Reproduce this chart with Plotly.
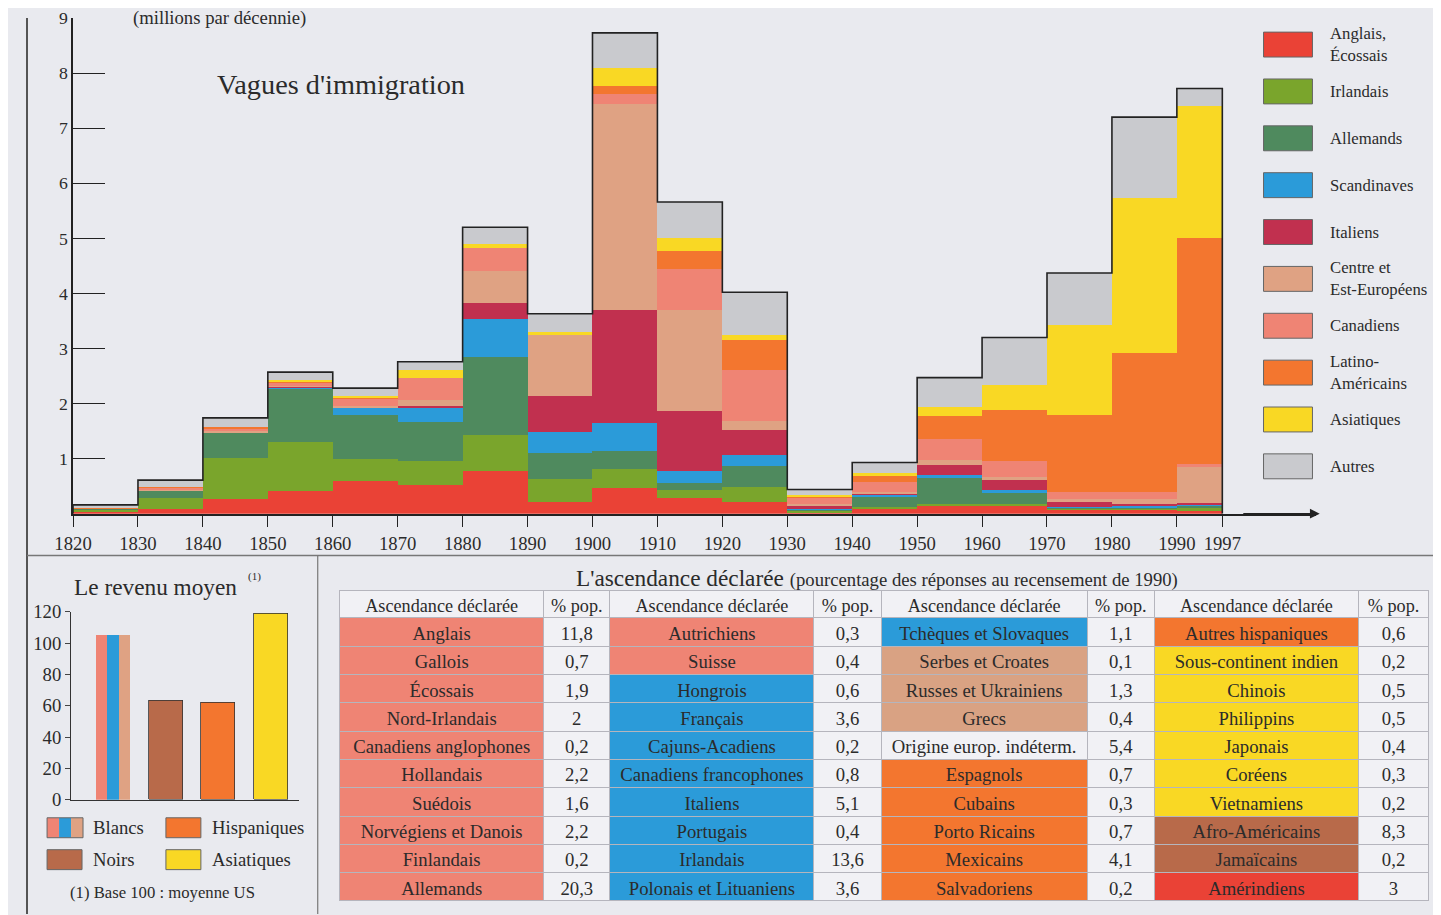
import plotly.graph_objects as go

# The snapshot maps page pixels to picture pixels as pic = S * page + O;
# positions below are given in picture pixels and converted back.
SX, OX, SY, OY = 0.988, 16.0, 0.98, 8.0
PAD = 8
W, H = 1434, 917
SERIF = "Liberation Serif, Times New Roman, serif"
BG = "#e9eaef"
INK = "#2b2b2b"

# --- Vagues d'immigration (millions par décennie) ---
decades = [1820, 1830, 1840, 1850, 1860, 1870, 1880, 1890, 1900, 1910,
           1920, 1930, 1940, 1950, 1960, 1970, 1980, 1990]
spans = [10] * 17 + [7]
year_ticks = [1820, 1830, 1840, 1850, 1860, 1870, 1880, 1890, 1900, 1910,
              1920, 1930, 1940, 1950, 1960, 1970, 1980, 1990, 1997]

anglais = [0.03, 0.09, 0.27, 0.41, 0.59, 0.53, 0.77, 0.22, 0.47, 0.28, 0.22, 0.02, 0.10, 0.14, 0.15, 0.07, 0.07, 0.05]
irlandais = [0.05, 0.20, 0.75, 0.90, 0.40, 0.42, 0.65, 0.41, 0.34, 0.15, 0.27, 0.02, 0.03, 0.04, 0.03, 0.02, 0.02, 0.07]
allemands = [0.01, 0.14, 0.45, 0.97, 0.80, 0.72, 1.43, 0.47, 0.32, 0.13, 0.37, 0.04, 0.18, 0.46, 0.19, 0.03, 0.03, 0.03]
scandinaves = [0.00, 0.00, 0.01, 0.02, 0.13, 0.24, 0.68, 0.39, 0.52, 0.21, 0.21, 0.01, 0.03, 0.07, 0.06, 0.01, 0.02, 0.02]
italiens = [0.00, 0.00, 0.00, 0.01, 0.01, 0.05, 0.30, 0.64, 2.04, 1.10, 0.45, 0.05, 0.03, 0.17, 0.19, 0.09, 0.03, 0.03]
centre_est = [0.00, 0.01, 0.02, 0.01, 0.02, 0.11, 0.57, 1.11, 3.75, 1.82, 0.17, 0.03, 0.02, 0.10, 0.04, 0.05, 0.10, 0.65]
canadiens = [0.01, 0.03, 0.05, 0.06, 0.14, 0.39, 0.42, 0.00, 0.18, 0.75, 0.92, 0.12, 0.18, 0.38, 0.29, 0.13, 0.13, 0.05]
latinos = [0.01, 0.01, 0.02, 0.01, 0.02, 0.00, 0.00, 0.00, 0.15, 0.33, 0.54, 0.03, 0.12, 0.42, 0.94, 1.39, 2.51, 4.11]
asiatiques = [0.00, 0.00, 0.00, 0.04, 0.03, 0.14, 0.07, 0.06, 0.33, 0.24, 0.09, 0.02, 0.04, 0.16, 0.45, 1.63, 2.83, 2.39]
autres = [0.05, 0.13, 0.17, 0.14, 0.14, 0.16, 0.31, 0.33, 0.63, 0.65, 0.78, 0.10, 0.20, 0.53, 0.86, 0.95, 1.46, 0.32]

groups = [
    ("Anglais,<br>Écossais", anglais, "#ea4236"),
    ("Irlandais", irlandais, "#7aa52c"),
    ("Allemands", allemands, "#4f8a5e"),
    ("Scandinaves", scandinaves, "#2b9bd9"),
    ("Italiens", italiens, "#c1304f"),
    ("Centre et<br>Est-Européens", centre_est, "#dfa283"),
    ("Canadiens", canadiens, "#ef8474"),
    ("Latino-<br>Américains", latinos, "#f3762f"),
    ("Asiatiques", asiatiques, "#f9d824"),
    ("Autres", autres, "#c9cace"),
]

# --- Le revenu moyen (base 100) ---
income_labels = ["Blancs", "Noirs", "Hispaniques", "Asiatiques"]
income_values = [105, 63, 62, 119]
income_colors = ["#2b9bd9", "#b86a4a", "#f3762f", "#f9d824"]
blancs_stripes = ["#ef8474", "#2b9bd9", "#dfa283"]

# --- L'ascendance déclarée (% pop., 1990) ---
anc_header = ["Ascendance déclarée", "%\u00a0pop."]
anc_names_1 = ["Anglais", "Gallois", "Écossais", "Nord-Irlandais", "Canadiens anglophones",
               "Hollandais", "Suédois", "Norvégiens et Danois", "Finlandais", "Allemands"]
anc_pct_1 = ["11,8", "0,7", "1,9", "2", "0,2", "2,2", "1,6", "2,2", "0,2", "20,3"]
anc_names_2 = ["Autrichiens", "Suisse", "Hongrois", "Français", "Cajuns-Acadiens",
               "Canadiens francophones", "Italiens", "Portugais", "Irlandais", "Polonais et Lituaniens"]
anc_pct_2 = ["0,3", "0,4", "0,6", "3,6", "0,2", "0,8", "5,1", "0,4", "13,6", "3,6"]
anc_names_3 = ["Tchèques et Slovaques", "Serbes et Croates", "Russes et Ukrainiens", "Grecs",
               "Origine europ. indéterm.", "Espagnols", "Cubains", "Porto Ricains", "Mexicains", "Salvadoriens"]
anc_pct_3 = ["1,1", "0,1", "1,3", "0,4", "5,4", "0,7", "0,3", "0,7", "4,1", "0,2"]
anc_names_4 = ["Autres hispaniques", "Sous-continent indien", "Chinois", "Philippins", "Japonais",
               "Coréens", "Vietnamiens", "Afro-Américains", "Jamaïcains", "Amérindiens"]
anc_pct_4 = ["0,6", "0,2", "0,5", "0,5", "0,4", "0,3", "0,2", "8,3", "0,2", "3"]

SAL, BLU, TAN, WHT, ORA, YEL, BRN, RED = "#ef8474", "#2b9bd9", "#d9a283", "#f1f1f5", "#f3762f", "#f9d824", "#b86a4a", "#ea4236"
anc_fill_1 = [SAL] * 10
anc_fill_2 = [SAL] * 2 + [BLU] * 8
anc_fill_3 = [BLU] + [TAN] * 3 + [WHT] + [ORA] * 5
anc_fill_4 = [ORA] + [YEL] * 6 + [BRN] * 2 + [RED]


def fx(px):
    page = (px - OX) / SX
    return min(1.0, max(0.0, (page - PAD) / W))


def fy(py):
    page = (py - OY) / SY
    return min(1.0, max(0.0, 1 - (page - PAD) / H))


def fs(size):
    return round(size / SX, 1)


fig = go.Figure()

centers = [d + s / 2 for d, s in zip(decades, spans)]
for name, vals, color in groups:
    fig.add_trace(go.Bar(x=centers, y=vals, width=spans, name=name.replace("<br>", " "),
                         marker={"color": color, "line": {"width": 0}}, showlegend=False))

totals = [sum(v[i] for _, v, _ in groups) for i in range(len(decades))]
fig.add_trace(go.Scatter(x=[decades[0]] + decades + [1997, 1997], y=[0] + totals + [totals[-1], 0],
                         mode="lines", line={"color": "#222", "width": 1.6, "shape": "hv"},
                         showlegend=False, hoverinfo="skip"))

# income bars
inc_x = list(range(len(income_labels)))
bw = 0.65
fig.add_trace(go.Bar(x=[inc_x[0] - bw / 3, inc_x[0], inc_x[0] + bw / 3], y=[income_values[0]] * 3,
                     width=bw / 3, marker={"color": blancs_stripes, "line": {"width": 0}},
                     xaxis="x2", yaxis="y2", showlegend=False))
fig.add_trace(go.Bar(x=inc_x[1:], y=income_values[1:], width=bw,
                     marker={"color": income_colors[1:], "line": {"color": "#333", "width": 0.8}},
                     xaxis="x2", yaxis="y2", showlegend=False))

# ancestry table
fig.add_trace(go.Table(
    domain={"x": [fx(337), fx(1428)], "y": [fy(912), fy(590)]},
    columnwidth=[203, 66, 203, 67, 205, 67, 203, 70],
    header={"values": anc_header * 4, "height": 27.5,
            "fill": {"color": WHT}, "line": {"color": "#b5b5bd", "width": 1},
            "font": {"family": SERIF, "size": fs(18), "color": INK}, "align": "center"},
    cells={"values": [anc_names_1, anc_pct_1, anc_names_2, anc_pct_2,
                      anc_names_3, anc_pct_3, anc_names_4, anc_pct_4],
           "height": 28.3,
           "fill": {"color": [anc_fill_1, [WHT] * 10, anc_fill_2, [WHT] * 10,
                              anc_fill_3, [WHT] * 10, anc_fill_4, [WHT] * 10]},
           "line": {"color": "#b5b5bd", "width": 1},
           "font": {"family": SERIF, "size": fs(18.5), "color": INK}, "align": "center"},
))

shapes = [
    dict(type="line", xref="paper", yref="paper", x0=fx(14), x1=fx(14), y0=1, y1=0,
         line={"color": "#555", "width": 2}),
    dict(type="line", xref="paper", yref="paper", x0=fx(14), x1=1, y0=fy(555), y1=fy(555),
         line={"color": "#777", "width": 1.5}),
    dict(type="line", xref="paper", yref="paper", x0=fx(315), x1=fx(315), y0=fy(555), y1=0,
         line={"color": "#777", "width": 1.2}),
]
annotations = [
    dict(text="(millions par décennie)", x=fx(128), y=fy(16), xanchor="left", yanchor="middle",
         font={"size": fs(18.5)}),
    dict(text="Vagues d'immigration", x=fx(212), y=fy(83), xanchor="left", yanchor="middle",
         font={"size": fs(28)}),
    dict(text="Le revenu moyen", x=fx(69), y=fy(587), xanchor="left", yanchor="middle",
         font={"size": fs(23)}),
    dict(text="(1)", x=fx(243), y=fy(576), xanchor="left", yanchor="middle", font={"size": fs(11)}),
    dict(text="(1) Base 100 : moyenne US", x=fx(65), y=fy(893), xanchor="left", yanchor="middle",
         font={"size": fs(16.5)}),
    dict(text="L'ascendance déclarée <span style='font-size:%spx'>(pourcentage des réponses au recensement de 1990)</span>" % fs(18.5),
         x=fx(572), y=fy(578), xanchor="left", yanchor="middle", font={"size": fs(23)}),
    dict(x=2012, y=0, ax=2000, ay=0, xref="x", yref="y", axref="x", ayref="y", text="",
         showarrow=True, arrowhead=2, arrowsize=1.3, arrowwidth=1.5, arrowcolor="#222"),
]

# immigration legend
for i, (name, _, color) in enumerate(groups):
    cy = 42.5 + i * 47
    shapes.append(dict(type="rect", xref="paper", yref="paper", x0=fx(1262), x1=fx(1311),
                       y0=fy(cy - 12.5), y1=fy(cy + 12.5), fillcolor=color,
                       line={"color": "#666", "width": 1}))
    annotations.append(dict(text=name, x=fx(1327), y=fy(cy), xanchor="left", yanchor="middle",
                            align="left", font={"size": fs(16.5)}))

# income legend
leg_items = [("Blancs", 44, 828), ("Hispaniques", 163, 828), ("Noirs", 44, 860), ("Asiatiques", 163, 860)]
for label, lx, ly in leg_items:
    k = income_labels.index(label)
    if label == "Blancs":
        for j, c in enumerate(blancs_stripes):
            shapes.append(dict(type="rect", xref="paper", yref="paper", x0=fx(lx + j * 12), x1=fx(lx + j * 12 + 12),
                               y0=fy(ly - 10), y1=fy(ly + 10), fillcolor=c, line={"width": 0}))
        shapes.append(dict(type="rect", xref="paper", yref="paper", x0=fx(lx), x1=fx(lx + 36),
                           y0=fy(ly - 10), y1=fy(ly + 10), line={"color": "#666", "width": 1}))
    else:
        shapes.append(dict(type="rect", xref="paper", yref="paper", x0=fx(lx), x1=fx(lx + 35),
                           y0=fy(ly - 10), y1=fy(ly + 10), fillcolor=income_colors[k],
                           line={"color": "#666", "width": 1}))
    annotations.append(dict(text=label, x=fx(lx + 44), y=fy(ly), xanchor="left", yanchor="middle",
                            font={"size": fs(18.5)}))

for a in annotations:
    a.setdefault("xref", "paper")
    a.setdefault("yref", "paper")
    a.setdefault("showarrow", False)

fig.update_layout(
    width=W, height=H,
    paper_bgcolor=BG, plot_bgcolor=BG,
    font={"family": SERIF, "color": INK},
    margin={"l": 0, "r": 0, "t": 0, "b": 0},
    barmode="stack", bargap=0,
    showlegend=False,
    shapes=shapes, annotations=annotations,
    xaxis={"domain": [fx(70), fx(1315)], "range": [1820, 2011.5], "tickvals": year_ticks,
           "showline": True, "linecolor": "#222", "linewidth": 1.5, "ticks": "outside",
           "ticklen": 12, "tickcolor": "#222", "showgrid": False, "zeroline": False,
           "tickfont": {"size": fs(18.5)}},
    yaxis={"domain": [fy(513), fy(12)], "range": [0, 9], "tickvals": list(range(1, 10)),
           "showline": True, "linecolor": "#222", "linewidth": 1.5, "ticks": "inside",
           "ticklen": 32, "tickcolor": "#222", "showgrid": False, "zeroline": False,
           "tickfont": {"size": fs(17.5)}},
    xaxis2={"domain": [fx(68), fx(296)], "range": [-0.8, 3.53], "anchor": "y2",
            "showline": True, "linecolor": "#333", "showticklabels": False, "ticks": "",
            "showgrid": False, "zeroline": False},
    yaxis2={"domain": [fy(800), fy(611.5)], "range": [0, 120], "anchor": "x2",
            "tickvals": [0, 20, 40, 60, 80, 100, 120], "showline": True, "linecolor": "#333",
            "ticks": "outside", "ticklen": 5, "showgrid": False, "zeroline": False,
            "tickfont": {"size": fs(18.5)}},
)

fig.write_html("out.html")
